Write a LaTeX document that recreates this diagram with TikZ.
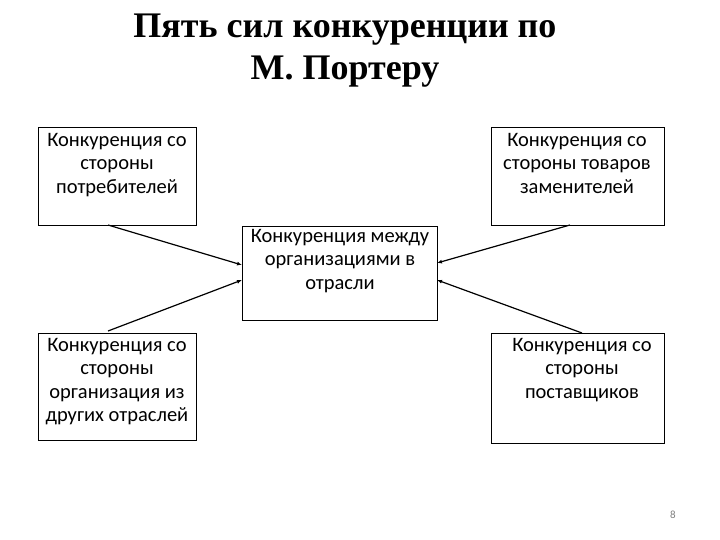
\documentclass[tikz,border=0pt]{standalone}
\usepackage{fontspec}
\setmainfont{Carlito}
\newfontfamily\titlefont{Liberation Serif}
\usetikzlibrary{arrows.meta}
\begin{document}
\begin{tikzpicture}[x=1pt,y=-1pt,
  lbl/.style={align=center,font=\fontsize{20.5}{23.5}\selectfont,anchor=north,inner sep=0pt},
  bx/.style={line width=0.8pt},
  arr/.style={-{Latex[length=5pt,width=4pt]},line width=1.2pt}]
\useasboundingbox (0,0) rectangle (720,540);
\node[font=\titlefont\bfseries\fontsize{36}{42}\selectfont,align=center] (title) at (345,51) {Пять сил конкуренции по\\М. Портеру};
\draw[bx] (38,127) rectangle (196,225);
\node[lbl] (tl) at (117,133) {Конкуренция со\\стороны\\потребителей};
\draw[bx] (491,127) rectangle (664,225);
\node[lbl] (tr) at (577,133) {Конкуренция со\\стороны товаров\\заменителей};
\draw[bx] (242,226) rectangle (437,320);
\node[lbl] (c) at (340,229) {Конкуренция между\\организациями в\\отрасли};
\draw[bx] (38,333) rectangle (196,440);
\node[lbl] (bl) at (117,338) {Конкуренция со\\стороны\\организация из\\других отраслей};
\draw[bx] (491,333) rectangle (664,443);
\node[lbl] (br) at (582,338) {Конкуренция со\\стороны\\поставщиков};
\coordinate (a1) at (108,225); \coordinate (b1) at (242,265);
\coordinate (a2) at (570,225); \coordinate (b2) at (437,263);
\coordinate (a3) at (108,331); \coordinate (b3) at (242,280);
\coordinate (a4) at (582,333); \coordinate (b4) at (437,280);
\draw[arr] (a1) -- (b1);
\draw[arr] (a2) -- (b2);
\draw[arr] (a3) -- (b3);
\draw[arr] (a4) -- (b4);
\node[text=gray,font=\fontsize{11}{13}\selectfont] (pg) at (673,515) {8};
\end{tikzpicture}
\end{document}
